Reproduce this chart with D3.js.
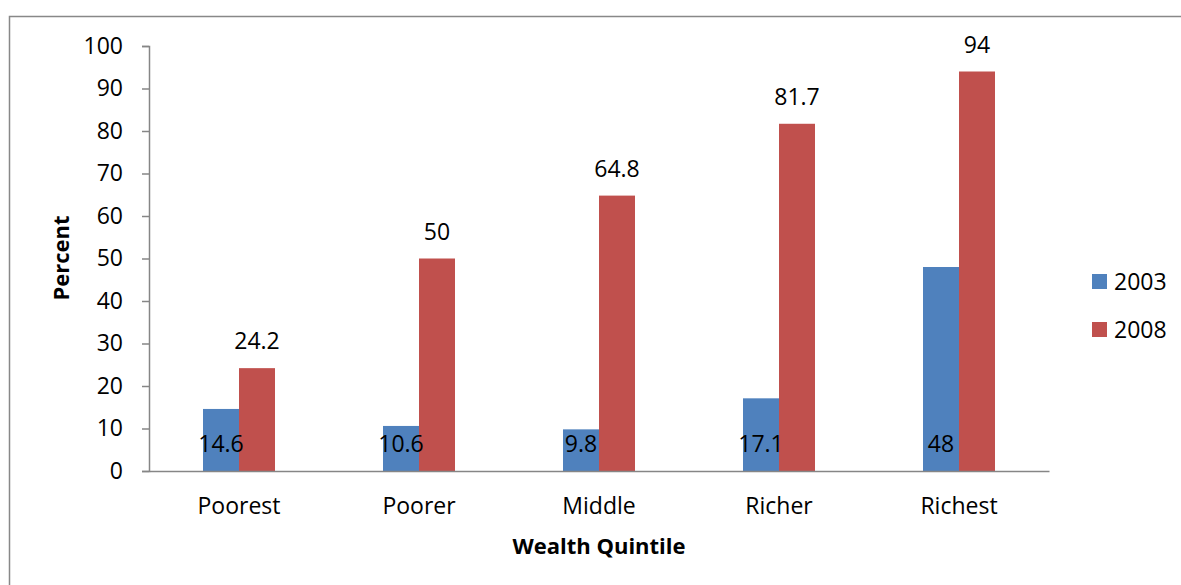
<!DOCTYPE html>
<html lang="en">
<head>
  <meta charset="UTF-8" />
  <title>Wealth Quintile chart</title>
  <script src="https://d3js.org/d3.v7.min.js"></script>
  <style>
    body { margin: 0; background: #fff; }
    svg { display: block; font-family: "Open Sans", sans-serif; }
  </style>
</head>
<body>
  <svg id="chart" width="1181" height="585"></svg>
  <script>
    // Data
    const quintiles = ["Poorest", "Poorer", "Middle", "Richer", "Richest"];
    const years = ["2003", "2008"];
    const values2003 = [14.6, 10.6, 9.8, 17.1, 48];
    const values2008 = [24.2, 50, 64.8, 81.7, 94];
    const yTicks = [0, 10, 20, 30, 40, 50, 60, 70, 80, 90, 100];
    const colors = ["#4F81BD", "#C0504D"];

    const svg = d3.select("#chart");
    const plotLeft = 149, plotRight = 1049, plotTop = 46, plotBottom = 471;
    const fs = 23;

    // outer frame (only top and left edges visible)
    svg.append("path")
      .attr("d", "M9.5,600 V16.5 H1200")
      .attr("fill", "none")
      .attr("stroke", "#888")
      .attr("stroke-width", 1.5);

    const x = d3.scaleBand().domain(quintiles).range([plotLeft, plotRight]);
    const xSub = d3.scaleBand().domain(years).range([0, 72]);
    const y = d3.scaleLinear().domain([0, 100]).range([plotBottom, plotTop]);

    // y axis
    const yAxis = svg.append("g")
      .attr("transform", `translate(${plotLeft},0)`)
      .call(d3.axisLeft(y).tickValues(yTicks).tickSize(7).tickPadding(19));
    yAxis.select(".domain").attr("stroke", "#868686").attr("stroke-width", 1.5);
    yAxis.selectAll(".tick line").attr("stroke", "#868686").attr("stroke-width", 1.5);
    yAxis.selectAll("text").attr("font-size", fs).attr("fill", "#000")
      .attr("font-family", "Open Sans");

    // bars
    const series = [values2003, values2008];
    series.forEach((vals, s) => {
      svg.append("g").selectAll("rect")
        .data(vals)
        .join("rect")
        .attr("x", (d, i) => x(quintiles[i]) + 54 + xSub(years[s]))
        .attr("y", d => y(d))
        .attr("width", xSub.bandwidth())
        .attr("height", d => plotBottom - y(d))
        .attr("fill", colors[s]);
    });

    // x axis line
    const xAxis = svg.append("g")
      .attr("transform", `translate(0,${plotBottom})`)
      .call(d3.axisBottom(x).tickSize(0).tickPadding(27));
    xAxis.select(".domain").attr("stroke", "#868686").attr("stroke-width", 1.5);
    xAxis.selectAll("text").attr("font-size", fs).attr("fill", "#000")
      .attr("font-family", "Open Sans");

    // data labels
    svg.append("g").selectAll("text")
      .data(values2003)
      .join("text")
      .attr("x", (d, i) => x(quintiles[i]) + 54 + xSub("2003") + xSub.bandwidth() / 2)
      .attr("y", plotBottom - 19)
      .attr("text-anchor", "middle")
      .attr("font-size", fs)
      .text(d => d);
    svg.append("g").selectAll("text")
      .data(values2008)
      .join("text")
      .attr("x", (d, i) => x(quintiles[i]) + 54 + xSub("2008") + xSub.bandwidth() / 2)
      .attr("y", d => y(d) - 19)
      .attr("text-anchor", "middle")
      .attr("font-size", fs)
      .text(d => d);

    // axis titles
    svg.append("text")
      .attr("transform", "translate(69,258) rotate(-90)")
      .attr("text-anchor", "middle")
      .attr("font-size", 22)
      .attr("font-weight", "bold")
      .text("Percent");
    svg.append("text")
      .attr("x", 599).attr("y", 554)
      .attr("text-anchor", "middle")
      .attr("font-size", 22)
      .attr("font-weight", "bold")
      .text("Wealth Quintile");

    // legend
    const legend = svg.append("g").selectAll("g")
      .data(years)
      .join("g")
      .attr("transform", (d, i) => `translate(1092,${274 + i * 48})`);
    legend.append("rect").attr("width", 15).attr("height", 15).attr("fill", (d, i) => colors[i]);
    legend.append("text").attr("x", 22).attr("y", 15.5).attr("font-size", fs).text(d => d);
  </script>
</body>
</html>
